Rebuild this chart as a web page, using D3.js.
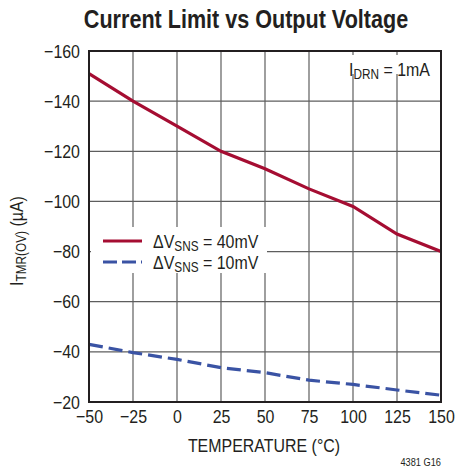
<!DOCTYPE html>
<html lang="en">
<head>
<meta charset="UTF-8">
<title>Current Limit vs Output Voltage</title>
<script src="https://d3js.org/d3.v7.min.js"></script>
<style>
    body { margin: 0; background: #fff; }
    svg { display: block; }
    text { font-family: "Liberation Sans", Arial, sans-serif; fill: #231f20; }
    .grid line { stroke: #5e5e5e; stroke-width: 1.2; }
</style>
</head>
<body>
<div id="viz"></div>
<script>
    // temperature (°C)
    var temps = [-50, -25, 0, 25, 50, 75, 100, 125, 150];
    // I_TMR(OV) in µA
    var sns40 = [-151, -140, -130, -120, -113, -105, -98, -87, -80];
    var sns10 = [-43, -39.7, -37, -33.7, -31.7, -28.7, -27, -24.8, -22.7];
    var xTicks = [-50, -25, 0, 25, 50, 75, 100, 125, 150];
    var yTicks = [-160, -140, -120, -100, -80, -60, -40, -20];
    var seriesNames = ["40mV", "10mV"];

    var W = 455, H = 471;
    var mLeft = 89, mRight = 441, mTop = 51, mBottom = 402;
    var narrow = 0.84; // the original uses a condensed face

    var svg = d3.select("#viz").append("svg").attr("width", W).attr("height", H);

    var xScale = d3.scaleLinear().domain([-50, 150]).range([mLeft, mRight]);
    var yScale = d3.scaleLinear().domain([-20, -160]).range([mBottom, mTop]);
    var fmt = function (d) { return d < 0 ? "\u2212" + Math.abs(d) : d; };

    // text with optional subscript, squeezed horizontally
    function label(x, y, anchor, size, main, sub, rest, rot, k) {
        var g = svg.append("g")
            .attr("transform", "translate(" + x + "," + y + ")" + (rot ? " rotate(" + rot + ")" : "") + " scale(" + (k || narrow) + ",1)");
        var t = g.append("text").attr("text-anchor", anchor).style("font-size", size + "px");
        t.append("tspan").text(main);
        if (sub) {
            t.append("tspan").attr("dy", size * 0.17).style("font-size", (size * 0.74) + "px").text(sub);
            t.append("tspan").attr("dy", -size * 0.17).text(rest);
        }
        return t;
    }

    label(246, 28, "middle", 26, "Current Limit vs Output Voltage", null, null, 0, 0.83)
        .style("font-weight", "bold").attr("fill", "#000");

    // grid
    var grid = svg.append("g").attr("class", "grid");
    grid.selectAll("line.v").data(xTicks.slice(1, -1)).enter().append("line")
        .attr("x1", function (d) { return xScale(d); }).attr("x2", function (d) { return xScale(d); })
        .attr("y1", mTop).attr("y2", mBottom);
    grid.selectAll("line.h").data(yTicks.slice(1, -1)).enter().append("line")
        .attr("y1", function (d) { return yScale(d); }).attr("y2", function (d) { return yScale(d); })
        .attr("x1", mLeft).attr("x2", mRight);

    // white boxes behind the annotations
    svg.append("rect").attr("x", 341).attr("y", 55).attr("width", 98).attr("height", 19).attr("fill", "#fff");
    svg.append("rect").attr("x", 91).attr("y", 227).attr("width", 176).attr("height", 46).attr("fill", "#fff");

    // tick labels
    var xAxis = d3.axisBottom(xScale).tickValues(xTicks).tickSize(0).tickPadding(8).tickFormat(fmt);
    var yAxis = d3.axisLeft(yScale).tickValues(yTicks).tickSize(0).tickPadding(9).tickFormat(fmt);
    var gx = svg.append("g").attr("transform", "translate(0," + mBottom + ")").call(xAxis);
    var gy = svg.append("g").attr("transform", "translate(" + mLeft + ",0)").call(yAxis);
    [gx, gy].forEach(function (g) {
        g.select(".domain").remove();
        g.selectAll("text")
            .style("font-size", "19px").style("font-family", null).attr("fill", "#231f20")
            .attr("transform", "scale(" + narrow + ",1)");
    });
    gy.selectAll("text").attr("x", -9 / narrow);

    // lines
    var line = d3.line()
        .x(function (d, i) { return xScale(temps[i]); })
        .y(function (d) { return yScale(d); });

    svg.append("path").attr("d", line(sns40))
        .attr("fill", "none").attr("stroke", "#a50d32").attr("stroke-width", 3.2);
    svg.append("path").attr("d", line(sns10))
        .attr("fill", "none").attr("stroke", "#3a53a4").attr("stroke-width", 3.2)
        .attr("stroke-dasharray", "14,6");

    // frame
    svg.append("rect").attr("x", mLeft).attr("y", mTop)
        .attr("width", mRight - mLeft).attr("height", mBottom - mTop)
        .attr("fill", "none").attr("stroke", "#231f20").attr("stroke-width", 2);

    // legend
    [{ c: "#a50d32", dash: null, y: 241 }, { c: "#3a53a4", dash: "14,5", y: 262 }].forEach(function (s, i) {
        svg.append("line").attr("x1", 103).attr("x2", 142).attr("y1", s.y).attr("y2", s.y)
            .attr("stroke", s.c).attr("stroke-width", 3.2).attr("stroke-dasharray", s.dash);
        label(153, s.y + 7, "start", 19, "\u0394V", "SNS", " = " + seriesNames[i]);
    });

    label(430, 76, "end", 19, "I", "DRN", " = 1mA");

    // axis titles
    label(264, 452, "middle", 19, "TEMPERATURE (\u00B0C)");
    label(23, 241, "middle", 19, "I", "TMR(OV)", " (\u00B5A)", -90);

    label(441, 466, "end", 11, "4381 G16");
</script>
</body>
</html>
